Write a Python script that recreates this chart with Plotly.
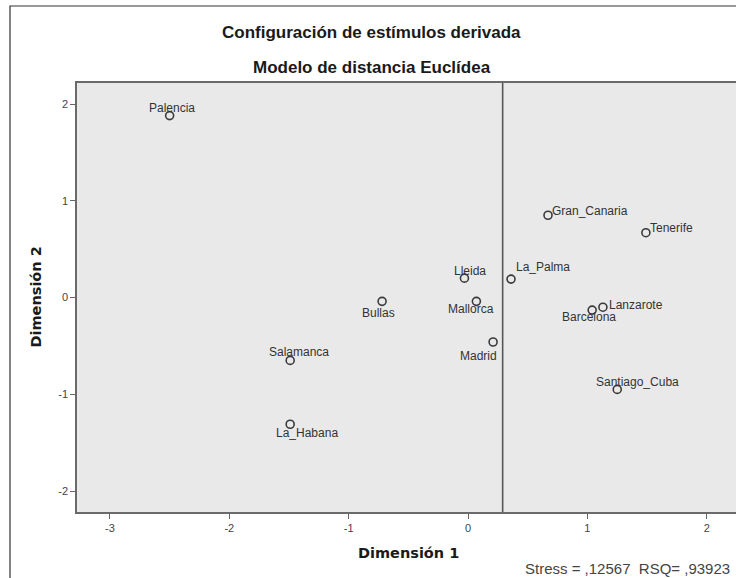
import plotly.graph_objects as go

# Derived stimulus configuration (Euclidean distance model)
estimulos = ["Palencia", "Gran_Canaria", "Tenerife", "La_Palma", "Lleida", "Mallorca",
             "Bullas", "Madrid", "Lanzarote", "Barcelona", "Salamanca",
             "Santiago_Cuba", "La_Habana"]
dimension_1 = [-2.50, 0.67, 1.49, 0.36, -0.03, 0.07, -0.72, 0.21, 1.13, 1.04, -1.49, 1.25, -1.49]
dimension_2 = [1.88, 0.85, 0.67, 0.19, 0.20, -0.04, -0.04, -0.46, -0.10, -0.13, -0.65, -0.95, -1.31]

x_ticks = [-3, -2, -1, 0, 1, 2]
y_ticks = [-2, -1, 0, 1, 2]
linea_ref_x = 0.29
stress_txt = "Stress = ,12567  RSQ= ,93923"

# label placement per point: (anchor, xshift, yshift)
label_pos = {
    "Palencia": ("center", 2, 8),
    "Gran_Canaria": ("left", 2, 4),
    "Tenerife": ("left", 2, 5),
    "La_Palma": ("left", 3, 12),
    "Lleida": ("center", 6, 7),
    "Mallorca": ("center", -5, -8),
    "Bullas": ("center", -4, -12),
    "Madrid": ("right", 6, -14),
    "Lanzarote": ("left", 4, 2),
    "Barcelona": ("center", -3, -7),
    "Salamanca": ("center", 9, 8),
    "Santiago_Cuba": ("center", 20, 7),
    "La_Habana": ("center", 17, -9),
}

W, H = 736, 578
ML, MT, MB = 77, 83, 66
PW, PH = W - ML, H - MT - MB


def px(x):
    """Figure pixel column -> paper x (plot-area relative)."""
    return (x - ML) / PW


def py(y):
    """Figure pixel row (from top) -> paper y (plot-area relative)."""
    return (H - MB - y) / PH


fig = go.Figure()
fig.add_trace(go.Scatter(
    x=dimension_1, y=dimension_2, mode="markers",
    marker=dict(symbol="circle-open", size=8, color="#3a3a3a", line=dict(width=1.6)),
    hoverinfo="text", text=estimulos, showlegend=False,
))

label_font = dict(family="Liberation Sans, Arial, sans-serif", size=12, color="#333333")
annotations = []
for name, xv, yv in zip(estimulos, dimension_1, dimension_2):
    anchor, dx, dy = label_pos[name]
    annotations.append(dict(
        x=xv, y=yv, xref="x", yref="y", text=name, showarrow=False,
        xanchor=anchor, yanchor="middle", xshift=dx, yshift=dy, font=label_font,
    ))

title_font = dict(family="Liberation Sans, Arial, sans-serif", size=17, color="#1a1a1a")
axis_title_font = dict(family="DejaVu Sans, Verdana, sans-serif", size=14.5, color="#1a1a1a")
annotations += [
    dict(text="<b>Configuración de estímulos derivada</b>", x=px(371), y=py(33),
         xref="paper", yref="paper", showarrow=False, xanchor="center", yanchor="middle",
         font=title_font),
    dict(text="<b>Modelo de distancia Euclídea</b>", x=px(371.5), y=py(68),
         xref="paper", yref="paper", showarrow=False, xanchor="center", yanchor="middle",
         font=title_font),
    dict(text="<b>Dimensión 1</b>", x=px(408), y=py(553),
         xref="paper", yref="paper", showarrow=False, xanchor="center", yanchor="middle",
         font=axis_title_font),
    dict(text="<b>Dimensión 2</b>", x=px(35), y=py(297.5), textangle=-90,
         xref="paper", yref="paper", showarrow=False, xanchor="center", yanchor="middle",
         font=axis_title_font),
    dict(text=stress_txt, x=px(732), y=py(568),
         xref="paper", yref="paper", showarrow=False, xanchor="right", yanchor="middle",
         font=dict(family="Liberation Sans, Arial, sans-serif", size=15, color="#444444")),
]

shapes = [
    # reference line
    dict(type="line", xref="x", yref="y domain", x0=linea_ref_x, x1=linea_ref_x, y0=0, y1=1,
         line=dict(color="#555555", width=1.6)),
    # outer chart frame
    dict(type="rect", xref="paper", yref="paper", layer="below",
         x0=px(10), x1=px(760), y0=py(600), y1=py(6),
         line=dict(color="#333333", width=1.2), fillcolor="rgba(0,0,0,0)"),
]

axis_common = dict(
    showgrid=False, zeroline=False, ticks="outside", ticklen=5, tickwidth=1.2,
    tickcolor="#666666", showline=True, linecolor="#6a6a6a", linewidth=1.6,
    tickfont=dict(family="Liberation Sans, Arial, sans-serif", size=11, color="#444444"),
)

fig.update_layout(
    width=W, height=H,
    margin=dict(l=ML, r=0, t=MT, b=MB),
    paper_bgcolor="white", plot_bgcolor="#e9e9e9",
    xaxis=dict(range=[-3.276, 2.245], tickvals=x_ticks, ticktext=[str(v) for v in x_ticks],
               mirror=True, **axis_common),
    yaxis=dict(range=[-2.217, 2.217], tickvals=y_ticks, ticktext=[str(v) for v in y_ticks],
               **axis_common),
    annotations=annotations, shapes=shapes,
)

fig.write_html("out.html")
